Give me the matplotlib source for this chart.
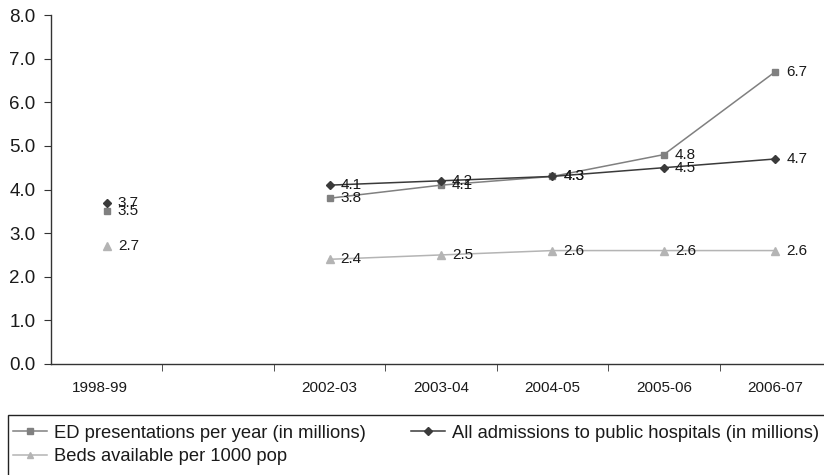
import numpy as np
import matplotlib
matplotlib.use("Agg")
import matplotlib.pyplot as plt
import matplotlib.transforms as mtransforms
from matplotlib.patches import Rectangle

plt.rcParams['font.family'] = ['Liberation Sans', 'DejaVu Sans']

# Reporting years (one empty slot marks the gap between 1998-99 and 2002-03)
years = ["1998-99", "", "2002-03", "2003-04", "2004-05", "2005-06", "2006-07"]

ed_presentations = [3.5, None, 3.8, 4.1, 4.3, 4.8, 6.7]
admissions = [3.7, None, 4.1, 4.2, 4.3, 4.5, 4.7]
beds_per_1000 = [2.7, None, 2.4, 2.5, 2.6, 2.6, 2.6]

series = [
    ("ED presentations per year (in millions)", ed_presentations, "#808080", "s", 5),
    ("All admissions to public hospitals (in millions)", admissions, "#3a3a3a", "D", 4.5),
    ("Beds available per 1000 pop", beds_per_1000, "#b4b4b4", "^", 6),
]

W, H = 824, 475
fig = plt.figure(figsize=(W / 100, H / 100), dpi=100)
ax = fig.add_axes([51 / W, (H - 364) / H, 780 / W, 349 / H])

x = np.arange(len(years))
handles = {}
for label, vals, color, marker, ms in series:
    y = np.array([np.nan if v is None else v for v in vals], dtype=float)
    h, = ax.plot(x, y, color=color, lw=1.1, marker=marker, ms=ms,
                 markerfacecolor=color, markeredgecolor=color, label=label)
    handles[label] = h
    for xi, v in zip(x, vals):
        if v is None:
            continue
        ax.annotate(f"{v:.1f}", (xi, v), xytext=(8, 0), textcoords="offset points",
                    va="center", ha="left", fontsize=11, color="#1a1a1a")

ax.set_xlim(-0.5, len(years) - 0.5)
ax.set_ylim(0, 8)
ax.set_yticks(np.arange(0, 8.01, 1.0))
ax.set_yticklabels([f"{v:.1f}" for v in np.arange(0, 8.01, 1.0)],
                   fontsize=13.5, color="#1a1a1a")

ax.set_xticks(x)
ax.set_xticklabels(years, fontsize=11, color="#1a1a1a")
ax.set_xticks(np.arange(0.5, len(years) - 1, 1.0), minor=True)
ax.tick_params(axis="x", which="major", length=0, pad=12)
ax.tick_params(axis="x", which="minor", length=5, direction="out", color="#333333")
ax.tick_params(axis="y", length=5, direction="out", color="#333333", pad=6)

# the first year label sits a little left of its point
first = ax.get_xticklabels()[0]
first.set_transform(first.get_transform() +
                    mtransforms.ScaledTranslation(-7 / 100, 0, fig.dpi_scale_trans))

for side in ("top", "right"):
    ax.spines[side].set_visible(False)
for side in ("left", "bottom"):
    ax.spines[side].set_color("#333333")
    ax.spines[side].set_linewidth(1.0)

# legend box running off the lower and right edges
fig.patches.append(Rectangle((8 / W, -10 / H), 830 / W, (H + 10 - 415) / H,
                             transform=fig.transFigure, fill=False,
                             edgecolor="#222222", lw=1.0))

order = ["ED presentations per year (in millions)",
         "Beds available per 1000 pop",
         "All admissions to public hospitals (in millions)"]
leg = fig.legend([handles[k] for k in order], order, loc="upper left",
                 bbox_to_anchor=(9 / W, 1 - 421 / H),
                 ncol=2, fontsize=13.2, frameon=False,
                 borderaxespad=0, handlelength=1.85,
                 handletextpad=0.4, labelspacing=0.35, borderpad=0.2,
                 columnspacing=2.45, markerscale=0.8)
for t in leg.get_texts():
    t.set_color("#1a1a1a")

fig.savefig("out.png", dpi=100)
